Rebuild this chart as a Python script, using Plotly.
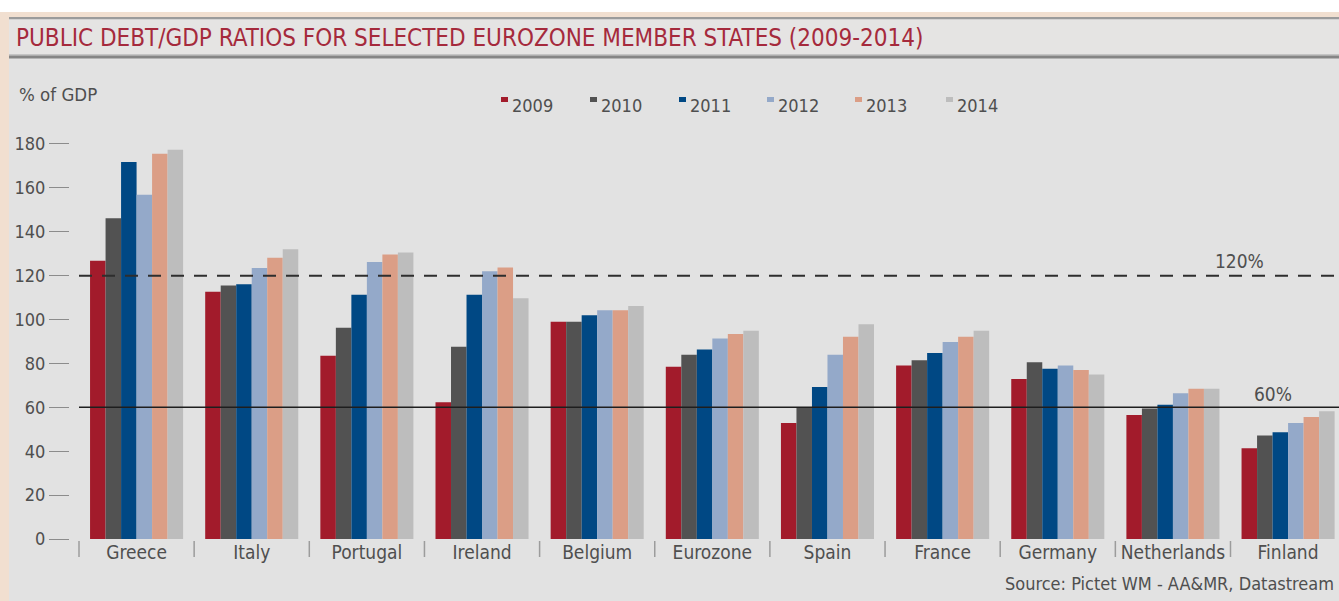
import plotly.graph_objects as go

# ---- data -------------------------------------------------------------
countries = ["Greece", "Italy", "Portugal", "Ireland", "Belgium", "Eurozone",
             "Spain", "France", "Germany", "Netherlands", "Finland"]
years = ["2009", "2010", "2011", "2012", "2013", "2014"]

debt_2009 = [126.8, 112.7, 83.5, 62.3, 99.0, 78.5, 52.9, 79.1, 72.9, 56.5, 41.3]
debt_2010 = [146.1, 115.5, 96.3, 87.6, 99.0, 84.0, 59.7, 81.4, 80.5, 59.5, 47.2]
debt_2011 = [171.8, 116.1, 111.3, 111.3, 101.9, 86.3, 69.3, 84.8, 77.6, 61.2, 48.6]
debt_2012 = [156.8, 123.5, 126.2, 122.0, 104.2, 91.3, 84.0, 89.8, 79.1, 66.4, 52.9]
debt_2013 = [175.5, 128.2, 129.6, 123.7, 104.2, 93.4, 92.2, 92.1, 77.0, 68.5, 55.6]
debt_2014 = [177.4, 132.0, 130.5, 109.7, 106.2, 94.9, 97.8, 94.9, 74.9, 68.5, 58.2]
series = [debt_2009, debt_2010, debt_2011, debt_2012, debt_2013, debt_2014]

thresholds = [120, 60]
threshold_labels = ["120%", "60%"]

y_ticks = [0, 20, 40, 60, 80, 100, 120, 140, 160, 180]

title_text = "PUBLIC DEBT/GDP RATIOS FOR SELECTED EUROZONE MEMBER STATES (2009-2014)"
unit_text = "% of GDP"
source_text = "Source: Pictet WM - AA&MR, Datastream"

# ---- styling ----------------------------------------------------------
colors = ["#a21b2b", "#525252", "#004884", "#94a9c9", "#db9e86", "#bdbdbd"]
FONT = "Liberation Sans Narrow, Arial Narrow, DejaVu Sans Condensed, Liberation Sans, sans-serif"
TEXT = "#4f4f4f"
BG = "#e2e2e2"
PEACH = "#f1dfd0"

W, H = 1339, 601
ML, MR, MT, MB = 70, 0, 122, 62
PW, PH = W - ML - MR, H - MT - MB
CAT_PX = 115.15          # width of one category slot in pixels
FIRST_EDGE_PX = 79       # left boundary of the first category
x_lo = -0.5 - (FIRST_EDGE_PX - ML) / CAT_PX
x_hi = x_lo + PW / CAT_PX


def px(xp):
    return (xp - ML) / PW


def py(yp):
    return (H - MB - yp) / PH


fig = go.Figure()
for name, vals, col in zip(years, series, colors):
    fig.add_trace(go.Bar(x=countries, y=vals, name=name, marker_color=col,
                         marker_line_width=0, showlegend=False))

shapes = []
annotations = []

# frame: white strip, peach border, title rules
shapes += [
    dict(type="rect", xref="paper", yref="paper", x0=px(0), x1=px(W), y0=py(0), y1=py(12),
         fillcolor="white", line_width=0, layer="below"),
    dict(type="rect", xref="paper", yref="paper", x0=px(0), x1=px(W), y0=py(12), y1=py(17),
         fillcolor=PEACH, line_width=0, layer="below"),
    dict(type="rect", xref="paper", yref="paper", x0=px(0), x1=px(9), y0=py(12), y1=py(H),
         fillcolor=PEACH, line_width=0, layer="below"),
    dict(type="rect", xref="paper", yref="paper", x0=px(9), x1=px(W), y0=py(17), y1=py(19.5),
         fillcolor="#9b9b9b", line_width=0, layer="below"),
    dict(type="rect", xref="paper", yref="paper", x0=px(9), x1=px(W), y0=py(19.5), y1=py(54),
         fillcolor="#e5e4e3", line_width=0, layer="below"),
    dict(type="rect", xref="paper", yref="paper", x0=px(9), x1=px(W), y0=py(54), y1=py(55.5),
         fillcolor="#c4c4c4", line_width=0, layer="below"),
    dict(type="rect", xref="paper", yref="paper", x0=px(9), x1=px(W), y0=py(55.5), y1=py(58.5),
         fillcolor="#858585", line_width=0, layer="below"),
]

# category separators below the baseline
for i in range(len(countries)):
    shapes.append(dict(type="line", xref="x", yref="paper", x0=i - 0.5, x1=i - 0.5,
                       y0=py(541), y1=py(557), line=dict(color="#9c9c9c", width=1.5)))

# reference lines at 120% (dashed) and 60% (solid)
shapes.append(dict(type="line", xref="x", yref="y", x0=-0.5, x1=x_hi, y0=thresholds[0],
                   y1=thresholds[0], line=dict(color="#2e2e2e", width=2, dash="13px,10px")))
shapes.append(dict(type="line", xref="x", yref="y", x0=-0.5, x1=x_hi, y0=thresholds[1],
                   y1=thresholds[1], line=dict(color="#1e1e1e", width=1.5)))
annotations.append(dict(text=threshold_labels[0], xref="paper", yref="y", x=px(1239),
                        y=thresholds[0], yshift=15, showarrow=False, xanchor="center",
                        yanchor="middle", font=dict(family=FONT, size=19, color=TEXT)))
annotations.append(dict(text=threshold_labels[1], xref="paper", yref="y", x=px(1273),
                        y=thresholds[1], yshift=13, showarrow=False, xanchor="center",
                        yanchor="middle", font=dict(family=FONT, size=19, color=TEXT)))

# legend: small squares with year labels
legend_x = [501, 590, 679, 767, 855, 946]
for lx, name, col in zip(legend_x, years, colors):
    shapes.append(dict(type="rect", xref="paper", yref="paper", x0=px(lx), x1=px(lx + 7),
                       y0=py(102), y1=py(97), fillcolor=col, line_width=0))
    annotations.append(dict(text=name, xref="paper", yref="paper", x=px(lx + 9), y=py(105),
                            xanchor="left", yanchor="middle", showarrow=False,
                            font=dict(family=FONT, size=18, color=TEXT)))

# title, unit and source
annotations.append(dict(text=title_text, xref="paper", yref="paper", x=px(14), y=py(38),
                        xanchor="left", yanchor="middle", showarrow=False,
                        font=dict(family=FONT, size=24, color="#a52a3c")))
annotations.append(dict(text=unit_text, xref="paper", yref="paper", x=px(17), y=py(95),
                        xanchor="left", yanchor="middle", showarrow=False,
                        font=dict(family=FONT, size=18.5, color=TEXT)))
annotations.append(dict(text=source_text, xref="paper", yref="paper", x=px(1336), y=py(583),
                        xanchor="right", yanchor="middle", showarrow=False,
                        font=dict(family=FONT, size=18, color=TEXT)))

fig.update_layout(
    width=W, height=H,
    margin=dict(l=ML, r=MR, t=MT, b=MB, pad=0),
    paper_bgcolor=BG, plot_bgcolor="rgba(0,0,0,0)",
    barmode="group", bargap=0.192, bargroupgap=0,
    shapes=shapes, annotations=annotations,
    xaxis=dict(range=[x_lo, x_hi], showgrid=False, zeroline=False, showline=False,
               ticks="", tickfont=dict(family=FONT, size=19, color=TEXT), fixedrange=True),
    yaxis=dict(range=[0, 190], tickvals=y_ticks, showgrid=False, zeroline=False,
               showline=False, ticks="outside", ticklen=20, tickwidth=1, tickcolor="#8c8c8c",
               tickfont=dict(family=FONT, size=18, color=TEXT), fixedrange=True),
)

fig.write_html("out.html", config=dict(displayModeBar=False))
